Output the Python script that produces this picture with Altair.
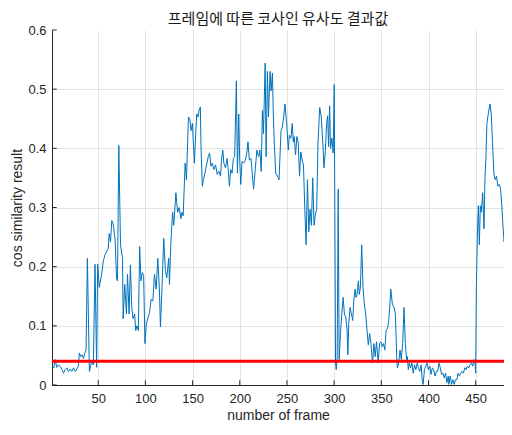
import altair as alt
import pandas as pd

# ---- data ----
frames = [
    1, 3, 4.5, 6, 8, 10, 11.5, 13.3, 15, 16.8, 18.5, 20.3, 22, 23.8, 25.5, 27.3, 29, 30, 31.5, 33, 34.3, 35.7, 37.1,
    38.5, 40.6, 43, 44.8, 46.6, 48.3, 49.4, 51.1, 53.6, 55.3, 57.1, 60.6, 61.6, 63, 64.4, 65.8, 66.5, 67.9, 69.4, 70.4,
    71.8, 73.6, 75.7, 76.4, 78.1, 79.9, 81, 82.7, 84.1, 85.5, 86.9, 88.6, 89.7, 91, 92.5, 93.9, 95.3, 96.7, 98.1, 99.5,
    100.9, 103, 104.4, 106.1, 107.9, 109.6, 111.4, 113.1, 114.9, 115.9, 117.7, 119.4, 121.2, 122.6, 124.7,
    125.5, 127, 128.8, 130, 132.3, 134.1, 135.8, 137.6, 138.6, 140, 142.1, 143.5, 145.6, 147, 148.4, 149.8, 150.5,
    151.9, 153.3, 154.4, 155.8, 156.8, 158.2, 158.9, 160.3, 161.4, 163.1, 164.5, 166.6, 168, 169.4, 170.8, 172.6,
    174.3, 176.1, 177.8, 179.6, 180.6, 182, 183.1, 184.8, 186.6, 187.6, 189, 190.4, 191.8, 193.2, 194.6, 196.4,
    197.5, 198.9, 199.9, 201, 202.4, 204.1, 205.9, 207.6, 208.7, 210.1, 211.8, 212.9, 214.6, 216.4, 218.1, 219.9,
    221.3, 222.7, 224, 225.1, 226.9, 227.9, 229.3, 230.4, 232.1, 233.2, 234.6, 235.6,
    236.7, 238.1, 240, 241.6, 243.7, 245.1, 246.5, 247.9, 249.7,
    251.4, 252.5, 254.2, 255.6, 256.7, 257.7, 259.1, 260.5, 261.9, 263.3, 264.7, 266.1, 267.5, 268.9, 270.3, 271.7,
    273.1, 274.5, 275.9, 277.3, 278.7, 280.1, 281.5, 282.9, 284.7, 286.4, 288.2, 289.2, 290.6, 292, 293.1, 294.1,
    295.2, 296.2, 297.6, 299, 300.1, 301.5, 302.2, 303.2, 304.3, 305.3, 306.7, 308.1, 309.5, 310.9, 312.3, 313.7,
    314.5, 315.5, 316.9, 317.9, 319.7, 320.8, 322.2, 323.2, 324.3, 325.7, 326.7, 327.8, 329.2, 330.6, 332, 333.4,
    334.8, 336.2, 337.6, 339, 340.7, 342.1, 343.5, 344.9, 346.7, 348.1, 349.5, 350.9, 352.3, 353.7, 355.1, 356.5,
    357.9, 359.3, 360, 361.7, 363.5, 364.9, 366.3, 367, 368.4, 369.8, 371.2, 372.6, 374, 375.4, 376.8,
    377.5, 378.6, 379.6, 381, 382.4, 383.8, 385.2, 386.6, 388, 389.4, 390.8, 392.2, 393.3, 394.3, 395.7, 397.1,
    398.5, 399.9, 401.3, 402.7, 404.1, 405.5, 406.9, 408.3, 409.7, 411.1, 412.5, 413.9, 415.3, 416.7, 418.1, 419.5,
    420.9, 421.6, 423, 424.4, 425.8, 427.2, 428.6, 430, 431.4, 432.8, 434.2, 435.6, 437, 438.4, 439.8, 441.2, 442.6,
    444, 445.5, 446.9, 448.3, 449.3, 450, 450.7, 451.8, 452.8, 453.9, 454.9, 456, 457.4, 458.8, 459.8, 460.9, 461.9,
    463.3, 465.1, 466.5, 467.9, 469.3, 470.7, 472.1, 473.5, 474.9, 476.3, 477.7, 479.1, 480.1, 481.2, 482.6, 483.6,
    484.7,
]
values = [
    0.032, 0.029, 0.043, 0.030, 0.034, 0.031, 0.026, 0.020, 0.026, 0.029, 0.023, 0.027, 0.023, 0.029, 0.023, 0.027,
    0.032, 0.054, 0.048, 0.051, 0.045, 0.054, 0.059,
    0.214, 0.023, 0.040, 0.034, 0.204, 0.030, 0.204, 0.165, 0.187, 0.209, 0.220, 0.231, 0.256, 0.242, 0.278, 0.272,
    0.264, 0.245, 0.180, 0.176, 0.405, 0.237, 0.214, 0.112, 0.170, 0.120, 0.187, 0.120, 0.203, 0.131, 0.112, 0.120,
    0.092, 0.100, 0.092, 0.234, 0.176, 0.190, 0.185, 0.070, 0.103, 0.115, 0.123, 0.145, 0.142, 0.187, 0.162, 0.214,
    0.159, 0.098, 0.170, 0.248, 0.192, 0.181, 0.214,
    0.170, 0.242, 0.292, 0.270, 0.325, 0.292, 0.300, 0.281, 0.292, 0.286, 0.375, 0.347, 0.453, 0.450, 0.430, 0.442,
    0.419, 0.375, 0.425, 0.458, 0.453, 0.464, 0.470, 0.403, 0.336, 0.347, 0.358, 0.370, 0.386, 0.392, 0.370, 0.375,
    0.364, 0.372, 0.356, 0.361, 0.353, 0.380, 0.397, 0.375, 0.367, 0.383, 0.367, 0.336, 0.364, 0.358, 0.383, 0.386,
    0.514, 0.358, 0.458, 0.380, 0.339, 0.378, 0.375, 0.380, 0.394, 0.411, 0.380, 0.383, 0.364, 0.331, 0.364, 0.397,
    0.386, 0.397, 0.361, 0.464, 0.425, 0.544, 0.386, 0.530, 0.453, 0.530, 0.497, 0.527, 0.453,
    0.405, 0.358, 0.353, 0.347, 0.430, 0.436, 0.453, 0.475, 0.442,
    0.397, 0.422, 0.417, 0.442, 0.411, 0.420, 0.389, 0.420, 0.411, 0.353, 0.394, 0.380, 0.372, 0.297, 0.237, 0.347,
    0.259, 0.297, 0.270, 0.350, 0.270, 0.289, 0.297, 0.408, 0.469, 0.453, 0.403, 0.367, 0.394, 0.442, 0.455, 0.403,
    0.472, 0.400, 0.417, 0.392, 0.508, 0.037, 0.026, 0.043, 0.331, 0.043, 0.087, 0.120, 0.148, 0.120, 0.115, 0.093,
    0.051, 0.104, 0.131, 0.123, 0.109, 0.142, 0.162, 0.148, 0.153, 0.176, 0.153, 0.165, 0.237, 0.165, 0.137, 0.120,
    0.093, 0.068, 0.087, 0.070, 0.037, 0.070, 0.048, 0.073, 0.037, 0.070, 0.073, 0.065, 0.070, 0.059, 0.093, 0.095,
    0.109, 0.142, 0.162, 0.137, 0.131, 0.120, 0.048, 0.029, 0.037, 0.059, 0.043, 0.070, 0.131, 0.070, 0.043,
    0.048, 0.026, 0.037, 0.029, 0.037, 0.020, 0.034, 0.026, 0.037, 0.029, 0.023, 0.034, 0.009, 0.001, 0.026, 0.032,
    0.037, 0.026, 0.032, 0.018, 0.029, 0.026, 0.015, 0.023, 0.023, 0.037, 0.029, 0.018, 0.020, 0.012, 0.020, 0.004,
    0.015, 0.001, 0.015, 0.001, 0.009, 0.001, 0.009, 0.009, 0.020, 0.015, 0.020, 0.023, 0.020, 0.029, 0.026, 0.032,
    0.029, 0.034, 0.037, 0.032, 0.043, 0.037, 0.020, 0.165, 0.253, 0.303, 0.237, 0.303, 0.292, 0.325, 0.264, 0.347,
    0.386, 0.442, 0.458, 0.475, 0.458, 0.408, 0.356, 0.347, 0.353, 0.336, 0.339, 0.333, 0.303, 0.264, 0.242, 0.259,
    0.320, 0.417, 0.419,
]
threshold = 0.04
x_ticks = [50, 100, 150, 200, 250, 300, 350, 400, 450]
y_ticks = [0, 0.1, 0.2, 0.3, 0.4, 0.5, 0.6]
x_domain = [1, 480]
title_text = "프레임에 따른 코사인 유사도 결과값"

df = pd.DataFrame({"frame": frames, "value": values})
thr = pd.DataFrame({"frame": x_domain, "value": [threshold, threshold]})
xt = pd.DataFrame({"frame": x_ticks})
yt = pd.DataFrame({"value": y_ticks})

DARK = "#262626"
PAD_L, PAD_T, PAD_B = 44, 22, 37
W = 496 - PAD_L
H = 414 - PAD_T - PAD_B

xs = alt.Scale(domain=x_domain, nice=False, zero=False)
ys = alt.Scale(domain=[0, 0.6], nice=False)

x_axis = alt.Axis(values=x_ticks, title="number of frame", ticks=False, tickSize=0,
                  labelPadding=7, titlePadding=3, grid=True)
y_axis = alt.Axis(values=y_ticks, title="cos similarity result", format=".1~f", ticks=False,
                  tickSize=0, labelPadding=6, titlePadding=3, grid=True,
                  gridOpacity={"condition": {"test": "datum.value >= 0.59", "value": 0}, "value": 1})

line = alt.Chart(df).mark_line(color="#0072BD", strokeWidth=1, clip=True).encode(
    x=alt.X("frame:Q", scale=xs, axis=x_axis),
    y=alt.Y("value:Q", scale=ys, axis=y_axis),
)
red = alt.Chart(thr).mark_line(color="#FF0000", strokeWidth=3, clip=True).encode(
    x=alt.X("frame:Q", scale=xs),
    y=alt.Y("value:Q", scale=ys),
)
# inward tick marks (MATLAB style)
x_in = alt.Chart(xt).mark_rule(color=DARK, strokeWidth=1).encode(
    x=alt.X("frame:Q", scale=xs),
    y=alt.Y("value:Q", scale=ys),
    y2="value2:Q",
).transform_calculate(value="0", value2="0.008")
y_in = alt.Chart(yt).mark_rule(color=DARK, strokeWidth=1).encode(
    y=alt.Y("value:Q", scale=ys),
    x=alt.X("frame:Q", scale=xs),
    x2="frame2:Q",
).transform_calculate(frame="1", frame2="6")

chart = alt.layer(line, red, x_in, y_in).properties(
    width=W, height=H,
    title=alt.TitleParams(title_text, font="Noto Sans CJK KR", fontSize=15, fontWeight="normal",
                          color="#1a1a1a", anchor="middle", offset=-3),
    autosize=alt.AutoSizeParams(type="none"),
    padding={"left": PAD_L, "top": PAD_T, "right": 0, "bottom": PAD_B},
    background="white",
).configure_view(stroke=None).configure_axis(
    labelFont="Liberation Sans", titleFont="Liberation Sans", labelFontSize=13, titleFontSize=14,
    titleFontWeight="normal", labelColor=DARK, titleColor=DARK, domainColor=DARK, domainWidth=1,
    gridColor="#e3e3e3", gridWidth=1,
)

chart.save("out.html", embed_options={"renderer": "svg", "actions": False})
